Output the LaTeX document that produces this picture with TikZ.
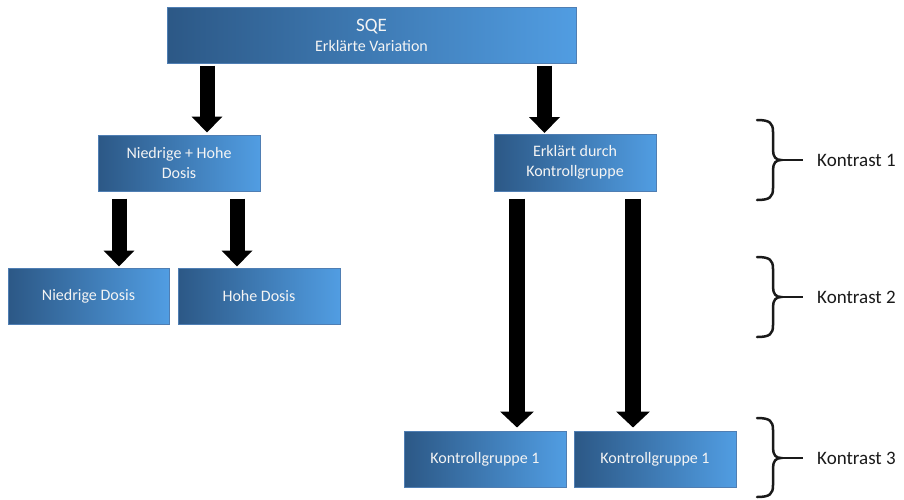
\documentclass[tikz,border=0pt]{standalone}
\usepackage{fontspec}
\setmainfont{Carlito}
\usetikzlibrary{arrows.meta,shadings}
\definecolor{boxL}{HTML}{2C5886}
\definecolor{boxR}{HTML}{519DE2}
\definecolor{boxB}{HTML}{4F7EB3}
\definecolor{boxT}{HTML}{F4F4F4}
\definecolor{txtK}{HTML}{1A1A1A}
\newcommand\mybrace[3]{%
  \draw[bracestyle] (757,#1) .. controls (770,#1) and (773,#1+3) .. (773,#1+12)
    -- (773,#2-10) .. controls (773,#2-3) and (776,#2) .. (781,#2)
    .. controls (776,#2) and (773,#2+3) .. (773,#2+10)
    -- (773,#3-12) .. controls (773,#3-3) and (770,#3) .. (757,#3);}
\begin{document}
\begin{tikzpicture}[x=1pt,y=-1pt,
  gbox/.style={draw=boxB, line width=1pt, left color=boxL, right color=boxR,
    text=boxT, inner sep=0pt, align=center, font=\fontsize{16}{20}\selectfont},
  bigarrow/.style={line width=15pt, -{Triangle[length=16pt,width=30pt]}},
  longarrow/.style={line width=16pt, -{Triangle[length=16pt,width=33pt]}},
  bracestyle/.style={line width=2.5pt, txtK, line cap=round},
  konlabel/.style={anchor=base west, inner sep=0pt, text=txtK, font=\fontsize{19}{22}\selectfont}]
\useasboundingbox (0,0) rectangle (904,499);

% boxes
\node[gbox, minimum width=409pt, minimum height=56pt] (sqe) at (371.5,35)
  {{\fontsize{19}{20}\selectfont SQE}\\Erklärte Variation};
\node[gbox, minimum width=162pt, minimum height=56pt] (nh) at (179,163) {Niedrige + Hohe\\Dosis};
\node[gbox, minimum width=162pt, minimum height=57pt] (erk) at (575,162.5) {Erklärt durch\\Kontrollgruppe};
\node[gbox, minimum width=161pt, minimum height=56pt] (nd) at (88.5,296) {Niedrige Dosis};
\node[gbox, minimum width=162pt, minimum height=56pt] (hd) at (259,296) {Hohe Dosis};
\node[gbox, minimum width=162pt, minimum height=56pt] (kg1) at (485,459) {Kontrollgruppe 1};
\node[gbox, minimum width=162pt, minimum height=56pt] (kg2) at (655,459) {Kontrollgruppe 1};

% arrow x positions
\coordinate (ax1) at (207,0);
\coordinate (ax2) at (544.5,0);
\coordinate (ax3) at (119,0);
\coordinate (ax4) at (237,0);
\coordinate (ax5) at (517,0);
\coordinate (ax6) at (633,0);

\draw[bigarrow, shorten <=2pt, shorten >=2pt] (ax1 |- sqe.south) -- (ax1 |- nh.north);
\draw[bigarrow, shorten <=2pt, shorten >=0.5pt] (ax2 |- sqe.south) -- (ax2 |- erk.north);
\draw[bigarrow, shorten <=7pt, shorten >=1pt] (ax3 |- nh.south) -- (ax3 |- nd.north);
\draw[bigarrow, shorten <=7pt, shorten >=1pt] (ax4 |- nh.south) -- (ax4 |- hd.north);
\draw[longarrow, shorten <=7pt, shorten >=3pt] (ax5 |- erk.south) -- (ax5 |- kg1.north);
\draw[longarrow, shorten <=7pt, shorten >=3pt] (ax6 |- erk.south) -- (ax6 |- kg2.north);

% braces and labels
\mybrace{120}{160}{200}
\mybrace{257}{297}{337}
\mybrace{418}{458}{497}
\node[konlabel] (k1) at (817,166) {Kontrast 1};
\node[konlabel] (k2) at (817,303) {Kontrast 2};
\node[konlabel] (k3) at (817,464) {Kontrast 3};
\coordinate (t1) at (781,160);
\coordinate (t2) at (781,297);
\coordinate (t3) at (781,458);
\draw[bracestyle, line cap=butt] (t1) -- (t1 -| 803,0);
\draw[bracestyle, line cap=butt] (t2) -- (t2 -| 803,0);
\draw[bracestyle, line cap=butt] (t3) -- (t3 -| 803,0);
\end{tikzpicture}
\end{document}
